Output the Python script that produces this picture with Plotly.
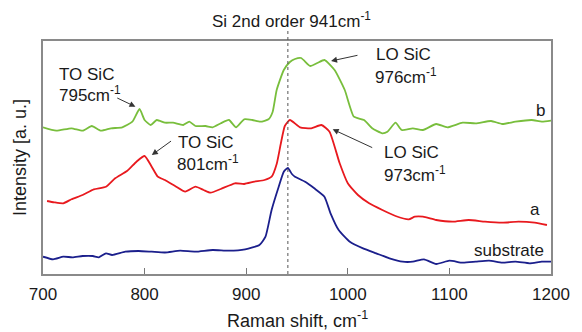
import plotly.graph_objects as go

# ---- data (Raman shift in cm^-1, intensity in arbitrary units) ----
x_b = [700, 713, 728, 739, 748, 757, 767, 778, 788, 795, 800, 806, 812, 820, 828, 838, 844, 850,
       860, 867, 875, 883, 890, 898, 906, 914, 922, 926, 930, 937, 943, 948, 954, 963, 970, 977,
       987, 997, 1006, 1016, 1024, 1034, 1039, 1047, 1053, 1064, 1074, 1087, 1098, 1113, 1126,
       1141, 1152, 1165, 1181, 1191, 1200]
y_b = [146.7, 143.3, 145.7, 143.3, 148, 143.3, 145.7, 146.7, 152.3, 165, 154, 149, 154, 151.3,
       151.3, 149, 152.3, 148, 148, 146.7, 150.7, 154, 146.7, 154.7, 154, 152.3, 154.7, 162, 184,
       204, 212, 215, 216, 208, 211, 214, 204, 184, 157.3, 154, 145.7, 140.7, 142.3, 151.3, 144,
       145.7, 144, 150, 146.7, 151.3, 150.7, 153, 150, 152.3, 154, 152.3, 153.3]

x_a = [704, 711, 720, 728, 739, 750, 762, 771, 783, 792, 800, 807, 813, 820, 830, 840, 850, 858,
       865, 875, 889, 898, 908, 918, 925, 930, 934, 938, 943, 953, 964, 974, 982, 992, 1000, 1010,
       1021, 1034, 1047, 1060, 1066, 1074, 1087, 1103, 1119, 1135, 1152, 1168, 1184, 1196]
y_a = [73, 71.7, 70.7, 74.7, 79, 84.7, 87.3, 95.7, 103.3, 112.3, 118, 107.3, 97.3, 94, 88, 82.3,
       87.3, 84, 81.3, 85, 90.7, 90, 92.3, 94, 97.3, 110, 130, 148, 154, 146.7, 145.7, 149, 142.3,
       110.7, 90.7, 79, 70.7, 64, 58, 54.7, 57.3, 57.3, 54, 52.3, 54, 52.3, 51.3, 52.3, 51.3, 49]

x_s = [700, 710, 720, 729, 739, 749, 755, 762, 768, 781, 794, 807, 820, 835, 850, 867, 883, 899,
       913, 919, 925, 932, 937, 941, 945, 948, 958, 967, 977, 983, 991, 1002, 1015, 1028, 1041,
       1054, 1064, 1075, 1087, 1100, 1113, 1126, 1139, 1152, 1165, 1179, 1191, 1200]
y_s = [17.3, 14.7, 17.3, 16.7, 18, 18, 16.7, 20.7, 19, 22.3, 23, 22.3, 21.5, 23.3, 22.3, 24,
       23.3, 24.7, 29, 37.3, 64, 87.3, 102.3, 106, 100, 97.3, 92.3, 85.7, 77.3, 60.7, 44, 32.3,
       25.7, 20.7, 15.7, 12.3, 12.3, 14.7, 10, 13.3, 11.3, 12.3, 13.3, 11.3, 12.3, 10.7, 12.3, 12.3]

x_ticks = [700, 800, 900, 1000, 1100, 1200]
si_line = 941

FONT = "Liberation Sans, Arial, sans-serif"
TXT = "#1a1a1a"

fig = go.Figure()
fig.add_trace(go.Scatter(x=x_b, y=y_b, mode="lines", line=dict(color="#78be3c", width=1.8, shape="spline", smoothing=0.5)))
fig.add_trace(go.Scatter(x=x_a, y=y_a, mode="lines", line=dict(color="#e8191e", width=1.8, shape="spline", smoothing=0.5)))
fig.add_trace(go.Scatter(x=x_s, y=y_s, mode="lines", line=dict(color="#1b1f8c", width=1.8, shape="spline", smoothing=0.5)))

fig.add_shape(type="line", xref="x", yref="paper", x0=si_line, x1=si_line, y0=0, y1=1.047,
              line=dict(color="#555555", width=1, dash="dot"))

def txt(x, y, s, anchor="left"):
    fig.add_annotation(x=x, y=y, text=s, showarrow=False, xanchor=anchor, yanchor="middle",
                       font=dict(family=FONT, size=17, color=TXT))

def arrow(x0, y0, x1, y1):
    fig.add_annotation(x=x1, y=y1, ax=x0, ay=y0, axref="x", ayref="y", text="", showarrow=True,
                       arrowhead=2, arrowsize=1.2, arrowwidth=1, arrowcolor="#333333")

txt(713.3, 200, "TO SiC")
txt(713.3, 180, "795cm<sup>-1</sup>")
arrow(771.6, 176.7, 791, 167.3)

txt(830.5, 131.5, "TO SiC")
txt(829.8, 111.5, "801cm<sup>-1</sup>")
arrow(827.5, 134, 807.1, 119)

txt(1025.5, 219.5, "LO SiC")
txt(1025, 198.5, "976cm<sup>-1</sup>")
arrow(1011, 219, 983.5, 213)

txt(1033.6, 121.5, "LO SiC")
txt(1033.6, 100, "973cm<sup>-1</sup>")
arrow(1025.5, 125.7, 985.1, 144.7)

txt(1190, 163.3, "b", "center")
txt(1184, 65, "a", "center")
txt(1195, 23.3, "substrate", "right")

fig.add_annotation(x=944.5, xref="x", y=1.09, yref="paper", text="Si 2nd order 941cm<sup>-1</sup>",
                   showarrow=False, xanchor="center", yanchor="middle",
                   font=dict(family=FONT, size=17, color=TXT))

# x-axis title placed as a paper annotation so it sits as low as in the reference
fig.add_annotation(x=0.5, xref="paper", y=-0.197, yref="paper", text="Raman shift, cm<sup>-1</sup>",
                   showarrow=False, xanchor="center", yanchor="middle", borderpad=0,
                   font=dict(family=FONT, size=18, color=TXT))

fig.update_layout(
    width=582, height=332,
    margin=dict(l=43, r=24, t=41, b=58),
    paper_bgcolor="white", plot_bgcolor="white",
    showlegend=False,
    font=dict(family=FONT, size=17, color=TXT),
)
fig.update_xaxes(range=[700, 1200], tickvals=x_ticks, ticks="inside", ticklen=6, tickwidth=1,
                 tickcolor="#777777", showline=True, linecolor="#8a8a8a", linewidth=1.5, mirror=True,
                 showgrid=False, zeroline=False, ticklabelstandoff=4,
                 tickfont=dict(family=FONT, size=17, color=TXT))
fig.update_yaxes(range=[0, 233], showticklabels=False, ticks="", showline=True, linecolor="#8a8a8a",
                 linewidth=1.5, mirror=True, showgrid=False, zeroline=False,
                 title=dict(text="Intensity [a. u.]", standoff=10,
                            font=dict(family=FONT, size=18, color=TXT)))

fig.write_html("out.html")
